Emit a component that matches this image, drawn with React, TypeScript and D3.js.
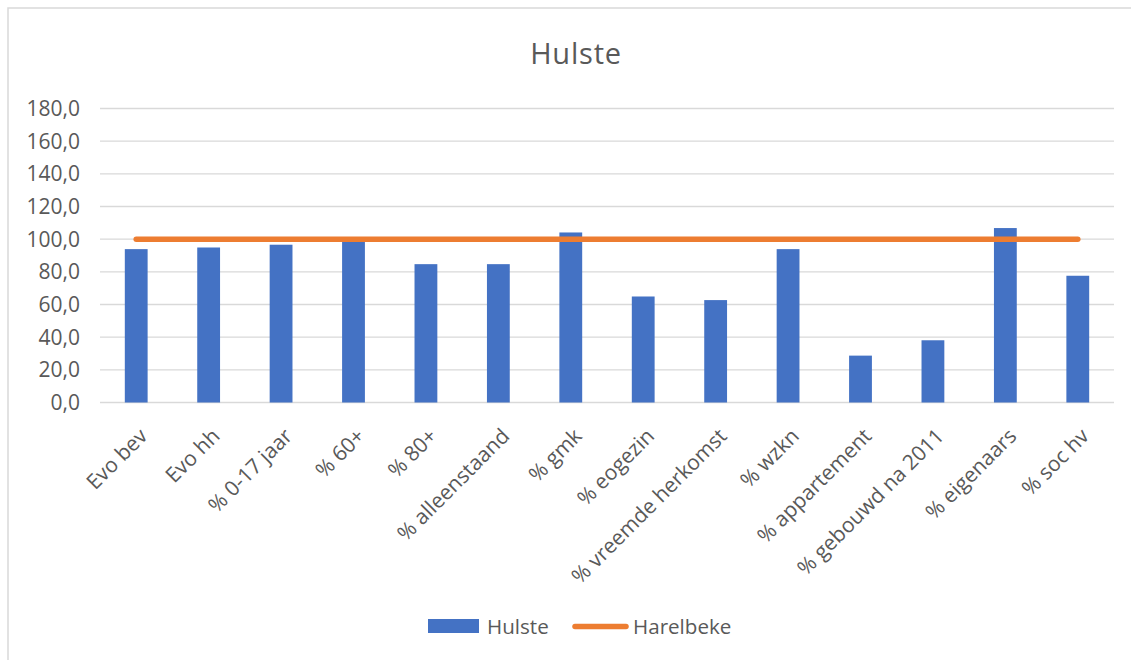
import React from 'react';
import * as d3 from 'd3';

// categories and values
const categories = [
  'Evo bev', 'Evo hh', '% 0-17 jaar', '% 60+', '% 80+', '% alleenstaand', '% gmk',
  '% eogezin', '% vreemde herkomst', '% wzkn', '% appartement', '% gebouwd na 2011',
  '% eigenaars', '% soc hv',
];
const hulste = [93.9, 94.9, 96.6, 99.6, 84.7, 84.7, 104.1, 64.9, 62.7, 93.9, 28.7, 38.1, 106.8, 77.6];
const harelbeke = [100, 100, 100, 100, 100, 100, 100, 100, 100, 100, 100, 100, 100, 100];
const yTicks = [0, 20, 40, 60, 80, 100, 120, 140, 160, 180];

const FONT = '"Open Sans", "Noto Sans", sans-serif';
const TEXT = '#595959';
const BLUE = '#4472C4';
const ORANGE = '#ED7D31';

const App = () => {
  const width = 1131;
  const height = 660;
  // plot area in page coordinates (svg is pinned to the page corner)
  const plot = { left: 100, right: 1114, top: 108.5, bottom: 402.5 };

  const x = d3.scaleBand<string>()
    .domain(categories)
    .range([plot.left, plot.right])
    .paddingInner(0.685)
    .paddingOuter(0.3425);

  const y = d3.scaleLinear()
    .domain([0, 180])
    .range([plot.bottom, plot.top]);

  const center = (c: string) => (x(c) ?? 0) + x.bandwidth() / 2;

  const line = d3.line<number>()
    .x((_, i) => center(categories[i]))
    .y(d => y(d));

  const fmt = (v: number) => v.toFixed(1).replace('.', ',');

  return (
    <svg
      width={width}
      height={height}
      style={{ position: 'absolute', left: 0, top: 0, background: '#fff' }}
      fontFamily={FONT}
    >
      {/* chart frame, only top and left edges are in view */}
      <rect x={8} y={8} width={1140} height={670} fill="#fff" stroke="#d9d9d9" strokeWidth={1.5} />

      <text x={576} y={64} textAnchor="middle" fontSize={29} letterSpacing={0.8} fill={TEXT}>Hulste</text>

      {/* gridlines + y labels */}
      {yTicks.map(t => (
        <g key={t}>
          <line x1={plot.left} x2={plot.right} y1={y(t)} y2={y(t)} stroke="#d9d9d9" strokeWidth={1.3} />
          <text x={80} y={y(t)} dy="0.36em" textAnchor="end" fontSize={21} fill={TEXT}>{fmt(t)}</text>
        </g>
      ))}

      {/* bars */}
      {hulste.map((v, i) => (
        <rect
          key={categories[i]}
          x={x(categories[i])}
          y={y(v)}
          width={x.bandwidth()}
          height={y(0) - y(v)}
          fill={BLUE}
        />
      ))}

      {/* reference line */}
      <path d={line(harelbeke) ?? ''} fill="none" stroke={ORANGE} strokeWidth={5.5} strokeLinecap="round" />

      {/* x labels, rotated */}
      {categories.map(c => (
        <text
          key={c}
          transform={`translate(${center(c) + 2},${427}) rotate(-45)`}
          textAnchor="end"
          dy="0.7em"
          fontSize={21}
          fill={TEXT}
        >
          {c}
        </text>
      ))}

      {/* legend */}
      <rect x={428} y={619} width={51} height={14} fill={BLUE} />
      <text x={487} y={633.5} fontSize={20.6} fill={TEXT}>Hulste</text>
      <line x1={575} x2={626} y1={626.5} y2={626.5} stroke={ORANGE} strokeWidth={5.5} strokeLinecap="round" />
      <text x={633} y={633.5} fontSize={20.6} fill={TEXT}>Harelbeke</text>
    </svg>
  );
};

export default App;
